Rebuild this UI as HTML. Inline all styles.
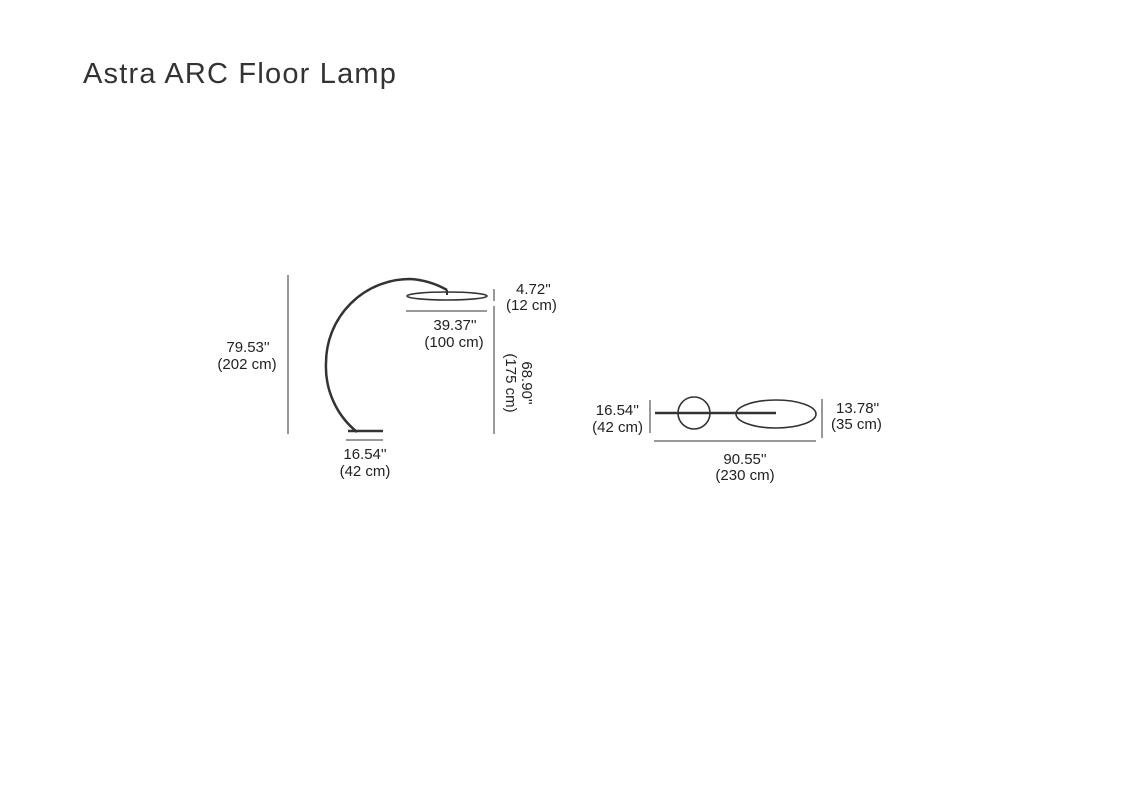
<!DOCTYPE html>
<html><head><meta charset="utf-8"><style>
body{margin:0;background:#fff;}
svg{display:block;}
text{font-family:"Liberation Sans",sans-serif;fill:#222;}
</style></head><body>
<svg width="1136" height="800" viewBox="0 0 1136 800" xmlns="http://www.w3.org/2000/svg">
<text x="83" y="83" font-size="29" letter-spacing="1.2" style="fill:#333">Astra ARC Floor Lamp</text>
<g stroke="#333" fill="none">
<path d="M357 432 A84 84 0 0 1 326 363 A84 84 0 0 1 410 279 A84 84 0 0 1 447 290" stroke-width="2.5"/>
<line x1="447" y1="290" x2="447" y2="295" stroke-width="2"/>
<ellipse cx="447" cy="296" rx="40" ry="4" stroke-width="1.6"/>
<line x1="348" y1="431" x2="383" y2="431" stroke-width="2.5"/>
<line x1="288" y1="275" x2="288" y2="434" stroke-width="1"/>
<line x1="494" y1="289" x2="494" y2="301" stroke-width="1"/>
<line x1="494" y1="306" x2="494" y2="434" stroke-width="1"/>
<line x1="406" y1="311" x2="487" y2="311" stroke-width="1"/>
<line x1="346" y1="440" x2="383" y2="440" stroke-width="1"/>
<line x1="650" y1="400" x2="650" y2="433" stroke-width="1"/>
<line x1="822" y1="399" x2="822" y2="438" stroke-width="1"/>
<line x1="655" y1="413" x2="776" y2="413" stroke-width="2.5"/>
<circle cx="694" cy="413" r="16" stroke-width="1.6"/>
<ellipse cx="776" cy="414" rx="40" ry="14" stroke-width="1.6"/>
<line x1="654" y1="441" x2="816" y2="441" stroke-width="1"/>
</g>
<g font-size="15">
<text x="516" y="294">4.72''</text>
<text x="506" y="310">(12 cm)</text>
<text x="455" y="330" text-anchor="middle">39.37''</text>
<text x="454" y="347" text-anchor="middle">(100 cm)</text>
<text x="248" y="352" text-anchor="middle">79.53''</text>
<text x="247" y="369" text-anchor="middle">(202 cm)</text>
<g transform="translate(517 383) rotate(90)">
<text x="0" y="-5" text-anchor="middle">68.90''</text>
<text x="0" y="11" text-anchor="middle">(175 cm)</text>
</g>
<text x="365" y="459" text-anchor="middle">16.54''</text>
<text x="365" y="476" text-anchor="middle">(42 cm)</text>
<text x="639" y="415" text-anchor="end">16.54''</text>
<text x="643" y="432" text-anchor="end">(42 cm)</text>
<text x="836" y="413">13.78''</text>
<text x="831" y="429">(35 cm)</text>
<text x="745" y="464" text-anchor="middle">90.55''</text>
<text x="745" y="480" text-anchor="middle">(230 cm)</text>
</g>
</svg>
</body></html>
